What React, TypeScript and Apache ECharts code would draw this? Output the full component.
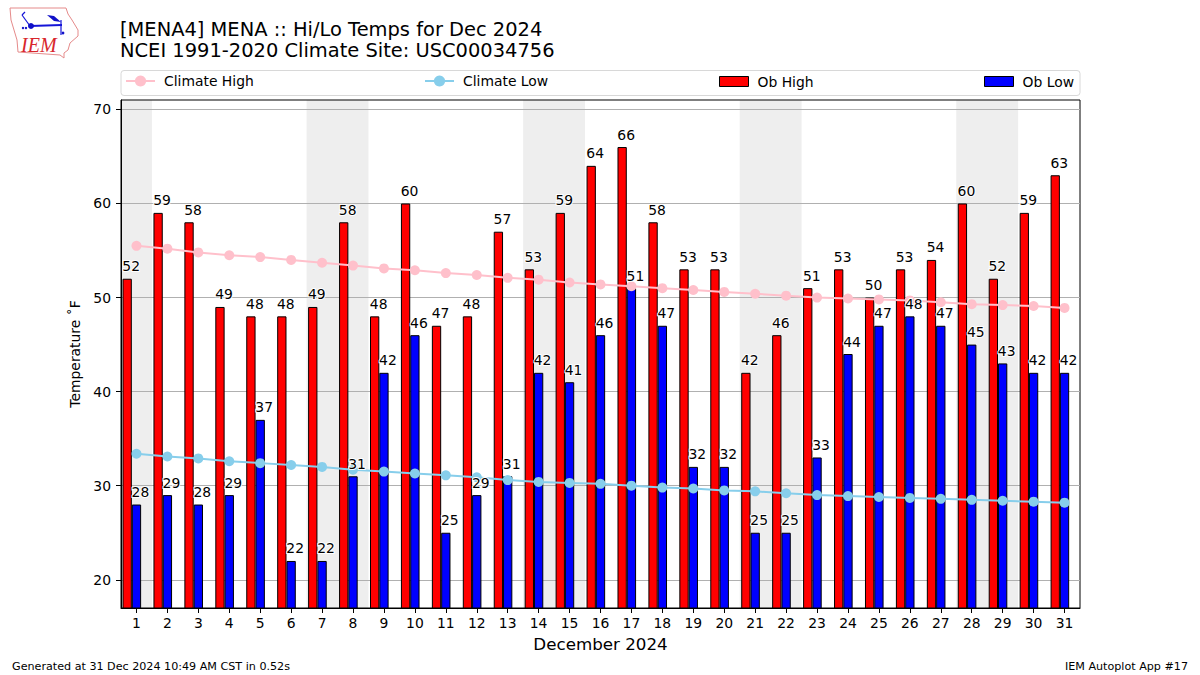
import React, { useEffect, useRef } from "react";
import * as echarts from "echarts";

const days = ["1","2","3","4","5","6","7","8","9","10","11","12","13","14","15","16","17","18","19","20","21","22","23","24","25","26","27","28","29","30","31"];
const obHigh = [52,59,58,49,48,48,49,58,48,60,47,48,57,53,59,64,66,58,53,53,42,46,51,53,50,53,54,60,52,59,63];
const obLow = [28,29,28,29,37,22,22,31,42,46,25,29,31,42,41,46,51,47,32,32,25,25,33,44,47,48,47,45,43,42,42];
const climateHigh = [55.5,55.2,54.8,54.5,54.3,54.0,53.7,53.4,53.1,52.9,52.6,52.4,52.1,51.9,51.6,51.4,51.2,51.0,50.8,50.6,50.4,50.2,50.0,49.9,49.8,49.7,49.5,49.3,49.2,49.1,48.9];
const climateLow = [33.4,33.1,32.9,32.6,32.4,32.2,32.0,31.7,31.5,31.3,31.1,30.9,30.6,30.4,30.3,30.2,30.0,29.8,29.7,29.5,29.4,29.2,29.0,28.9,28.8,28.7,28.6,28.5,28.4,28.3,28.2];
const weekendStarts = [1,7,14,21,28];
const weekendLengths = [1,2,2,2,2];
const yTicks = [20,30,40,50,60,70];
const Y_MIN = 17;
const Y_MAX = 71;

const FONT = "DejaVu Sans";
const BAR_W = 9.3;

export default function App() {
  const ref = useRef<HTMLDivElement>(null);
  useEffect(() => {
    document.body.style.margin = "0";
    const chart = echarts.init(ref.current!, undefined, { renderer: "svg" });
    const labelStyle = {
      show: true,
      position: "top" as const,
      distance: 5.5,
      color: "#000",
      opacity: 1,
      fontFamily: FONT,
      fontSize: 13.9,
      textBorderColor: "#fff",
      textBorderWidth: 2,
    };
    const legendCommon = {
      padding: 0,
      itemGap: 0,
      textStyle: { fontFamily: FONT, fontSize: 13.9, color: "#000", padding: [0, 0, 0, 4] },
    };
    const barLegendItem = { borderColor: "#000", borderWidth: 1 };
    chart.setOption({
      animation: false,
      backgroundColor: "#fff",
      title: {
        left: 120,
        top: 19,
        padding: 0,
        text: "[MENA4] MENA :: Hi/Lo Temps for Dec 2024\nNCEI 1991-2020 Climate Site: USC00034756",
        textStyle: { fontFamily: FONT, fontSize: 19.44, fontWeight: "normal", color: "#000", lineHeight: 21 },
      },
      grid: { left: 121, top: 100, width: 959, height: 508, show: true, borderColor: "#000", borderWidth: 1, backgroundColor: "transparent" },
      legend: [
        { ...legendCommon, left: 125, top: 74, data: ["Climate High"], itemWidth: 29, itemHeight: 14 },
        { ...legendCommon, left: 424, top: 74, data: ["Climate Low"], itemWidth: 29, itemHeight: 14 },
        { ...legendCommon, left: 719, top: 74.5, data: [{ name: "Ob High", icon: "rect", itemStyle: barLegendItem }], itemWidth: 29, itemHeight: 10 },
        { ...legendCommon, left: 984, top: 74.5, data: [{ name: "Ob Low", icon: "rect", itemStyle: barLegendItem }], itemWidth: 29, itemHeight: 10 },
      ],
      xAxis: {
        type: "category",
        data: days,
        name: "December 2024",
        nameLocation: "middle",
        nameGap: 27,
        nameTextStyle: { fontFamily: FONT, fontSize: 16.7, color: "#000" },
        axisLine: { show: true, lineStyle: { color: "#000", width: 1 } },
        axisTick: { show: true, alignWithLabel: true, length: 5, lineStyle: { color: "#000" } },
        axisLabel: { fontFamily: FONT, fontSize: 13.9, color: "#000", margin: 8, interval: 0 },
        splitLine: { show: false },
      },
      yAxis: {
        type: "value",
        min: Y_MIN,
        max: Y_MAX,
        name: "Temperature ˚F",
        nameLocation: "middle",
        nameRotate: 90,
        nameGap: 39,
        nameTextStyle: { fontFamily: FONT, fontSize: 13.9, color: "#000" },
        axisLine: { show: true, lineStyle: { color: "#000", width: 1 } },
        axisTick: { show: true, length: 5, lineStyle: { color: "#000" }, customValues: yTicks },
        axisLabel: { fontFamily: FONT, fontSize: 13.9, color: "#000", margin: 10, customValues: yTicks },
        splitLine: { show: true, lineStyle: { color: "#b0b0b0", width: 1 } },
      },
      graphic: [
        { type: "rect", z: -1, shape: { x: 121, y: 70.5, width: 959, height: 25, r: 3 }, style: { fill: "#fff", stroke: "#d8d8d8", lineWidth: 1 } },
        { type: "polygon", shape: { points: [[10,8],[66,8],[68,14],[72,20],[78,30],[78,36],[70,43],[68,50],[64,53],[64,58],[60,55],[18,52],[17,40],[11,20]] }, style: { fill: "#fff", stroke: "#e58a8a", lineWidth: 1 } },
        { type: "line", shape: { x1: 30, y1: 26, x2: 62, y2: 25 }, style: { stroke: "#1414d8", lineWidth: 2 } },
        { type: "line", shape: { x1: 30, y1: 26, x2: 22, y2: 15 }, style: { stroke: "#1414d8", lineWidth: 1.2 } },
        { type: "line", shape: { x1: 22, y1: 15, x2: 25, y2: 12 }, style: { stroke: "#1414d8", lineWidth: 1.2 } },
        { type: "circle", shape: { cx: 31, cy: 26, r: 3 }, style: { fill: "#1010c8" } },
        { type: "polygon", shape: { points: [[47,15],[54,16],[61,22],[54,21]] }, style: { fill: "#1010c8" } },
        { type: "line", shape: { x1: 61, y1: 20, x2: 61, y2: 35 }, style: { stroke: "#1414d8", lineWidth: 1.2 } },
        { type: "circle", shape: { cx: 26, cy: 28, r: 1.2 }, style: { fill: "#1010c8" } },
        { type: "circle", shape: { cx: 23, cy: 28, r: 1.2 }, style: { fill: "#1010c8" } },
        { type: "circle", shape: { cx: 63, cy: 33, r: 1.4 }, style: { fill: "#1010c8" } },
        { type: "text", x: 21, y: 35, style: { text: "IEM", fill: "#d8262c", fontFamily: "Liberation Serif", fontStyle: "italic", fontSize: 20 } },
        { type: "text", x: 12, y: 661, style: { text: "Generated at 31 Dec 2024 10:49 AM CST in 0.52s", fill: "#000", fontFamily: FONT, fontSize: 11.15 } },
        { type: "text", x: 1188, y: 661, style: { text: "IEM Autoplot App #17", fill: "#000", fontFamily: FONT, fontSize: 11.15, textAlign: "right" } },
      ],
      series: [
        {
          type: "custom",
          name: "weekend",
          z: -1,
          silent: true,
          encode: { x: 0, y: 1 },
          data: weekendStarts.map((d, i) => [d - 1, Y_MAX, weekendLengths[i]]),
          renderItem: (_p: any, api: any) => {
            const top = api.coord([api.value(0), Y_MAX]);
            const bottom = api.coord([api.value(0), Y_MIN]);
            const w = api.size([1, 0])[0];
            return {
              type: "rect",
              shape: { x: top[0] - w / 2, y: top[1], width: w * api.value(2), height: bottom[1] - top[1] },
              style: { fill: "#eeeeee" },
            };
          },
        },
        { type: "bar", name: "Ob High", data: obHigh, barWidth: BAR_W, barGap: "0%", itemStyle: { color: "#ff0000", borderColor: "#000", borderWidth: 1 } },
        { type: "bar", name: "Ob Low", data: obLow, barWidth: BAR_W, barGap: "0%", itemStyle: { color: "#0000ff", borderColor: "#000", borderWidth: 1 } },
        // empty slot: the reference's pair of bars is not centred on the tick, the low bar is
        { type: "bar", name: "slot", data: [], barWidth: BAR_W, barGap: "0%", silent: true },
        { type: "line", name: "Climate High", z: 3, data: climateHigh, symbol: "circle", symbolSize: 10, lineStyle: { color: "#ffc0cb", width: 2 }, itemStyle: { color: "#ffc0cb" } },
        { type: "line", name: "Climate Low", z: 3, data: climateLow, symbol: "circle", symbolSize: 10, lineStyle: { color: "#87ceeb", width: 2 }, itemStyle: { color: "#87ceeb" } },
        { type: "scatter", name: "high labels", z: 5, silent: true, data: obHigh, symbolSize: 0, itemStyle: { color: "transparent", opacity: 1 }, label: { ...labelStyle, offset: [4 - BAR_W, 0] } },
        { type: "scatter", name: "low labels", z: 5, silent: true, data: obLow, symbolSize: 0, itemStyle: { color: "transparent", opacity: 1 }, label: { ...labelStyle, offset: [4, 0] } },
      ],
    });
    return () => chart.dispose();
  }, []);
  return <div ref={ref} style={{ position: "absolute", left: 0, top: 0, width: 1200, height: 675 }} />;
}
